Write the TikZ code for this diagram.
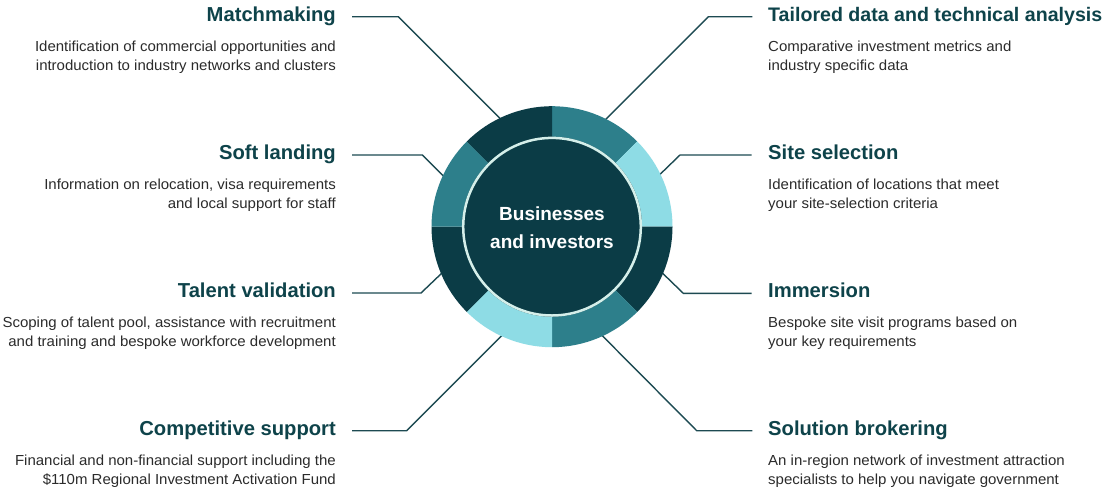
\documentclass[tikz,border=0pt]{standalone}
\usepackage{fontspec}
\setmainfont{Liberation Sans}
\newfontfamily\mydescfont{Liberation Sans}[FakeStretch=1.03]
\definecolor{ringdark}{HTML}{0B3C46}
\definecolor{ringteal}{HTML}{2D7F8B}
\definecolor{ringlight}{HTML}{8EDCE5}
\definecolor{ringline}{HTML}{D5EFEA}
\definecolor{titlecol}{HTML}{0E434A}
\definecolor{desccol}{HTML}{2B2B2B}
\definecolor{conncol}{HTML}{1D4A52}
\newcommand\myseg[3]{\fill[#3] (#1:120.5) arc[start angle=#1, end angle=#2, radius=120.5] -- (#2:89.5) arc[start angle=#2, end angle=#1, radius=89.5] -- cycle;}
\newcommand\mydescR[1]{\begin{tabular}[t]{@{}r@{}}#1\end{tabular}}
\newcommand\mydescL[1]{\begin{tabular}[t]{@{}l@{}}#1\end{tabular}}
\tikzset{
  titleL/.style={anchor=base east, inner sep=0pt, text=titlecol, font=\fontsize{20.2}{24}\selectfont\bfseries},
  titleR/.style={anchor=base west, inner sep=0pt, text=titlecol, font=\fontsize{20.2}{24}\selectfont\bfseries},
  descL/.style={anchor=base east, inner sep=0pt, text=desccol, font=\mydescfont\fontsize{14.55}{19}\selectfont},
  descR/.style={anchor=base west, inner sep=0pt, text=desccol, font=\mydescfont\fontsize{14.55}{19}\selectfont},
  conn/.style={draw=conncol, line width=1.4pt},
  centertext/.style={text=white, font=\fontsize{19}{27.7}\selectfont\bfseries, align=center, inner sep=0pt}
}
\begin{document}
\begin{tikzpicture}[x=1pt,y=-1pt]
\useasboundingbox (0,0) rectangle (1108,488);
\fill[white] (0,0) rectangle (1108,488);

% left texts
\node[titleL] (tm) at (336,21.5) {Matchmaking};
\node[descL] (dm) at (336,51.5) {\mydescR{Identification of commercial opportunities and\\introduction to industry networks and clusters}};
\node[titleL] (ts) at (336,159.5) {Soft landing};
\node[descL] (ds) at (336,189.5) {\mydescR{Information on relocation, visa requirements\\and local support for staff}};
\node[titleL] (tv) at (336,297.8) {Talent validation};
\node[descL] (dv) at (336,327.8) {\mydescR{Scoping of talent pool, assistance with recruitment\\and training and bespoke workforce development}};
\node[titleL] (tc) at (336,435.3) {Competitive support};
\node[descL] (dc) at (336,465.3) {\mydescR{Financial and non-financial support including the\\\$110m Regional Investment Activation Fund}};

% right texts
\node[titleR, font=\fontsize{19.6}{24}\selectfont\bfseries] (tt) at (768,21.5) {Tailored data and technical analysis};
\node[descR] (dt) at (768,51.5) {\mydescL{Comparative investment metrics and\\industry specific data}};
\node[titleR] (tss) at (768,159.5) {Site selection};
\node[descR] (dss) at (768,189.5) {\mydescL{Identification of locations that meet\\your site-selection criteria}};
\node[titleR] (ti) at (768,297.8) {Immersion};
\node[descR] (di) at (768,327.8) {\mydescL{Bespoke site visit programs based on\\your key requirements}};
\node[titleR] (tb) at (768,435.3) {Solution brokering};
\node[descR] (db) at (768,465.3) {\mydescL{An in-region network of investment attraction\\specialists to help you navigate government}};

% connector coordinates
\coordinate (mA) at (352,16.7);   \coordinate (mB) at (398.3,16.7);  \coordinate (mC) at (502,120.4);
\coordinate (sA) at (352,155);    \coordinate (sB) at (422.3,155);   \coordinate (sC) at (444.5,177.2);
\coordinate (vA) at (352,293);    \coordinate (vB) at (421,293);     \coordinate (vC) at (443,272);
\coordinate (cA) at (352,430.7);  \coordinate (cB) at (406.7,430.7); \coordinate (cC) at (504,333.4);
\coordinate (tA) at (752.3,16.7); \coordinate (tB) at (708.3,16.7);  \coordinate (tC) at (603.7,121.3);
\coordinate (eA) at (751.7,155);  \coordinate (eB) at (680,155);     \coordinate (eC) at (658,176.3);
\coordinate (iA) at (751.7,293.3);\coordinate (iB) at (683.3,293.3); \coordinate (iC) at (661.3,272);
\coordinate (bA) at (752.3,430.7);\coordinate (bB) at (696.7,430.7); \coordinate (bC) at (600.3,333.7);

\draw[conn] (mA) -- (mB) -- (mC);
\draw[conn] (sA) -- (sB) -- (sC);
\draw[conn] (vA) -- (vB) -- (vC);
\draw[conn] (cA) -- (cB) -- (cC);
\draw[conn] (tA) -- (tB) -- (tC);
\draw[conn] (eA) -- (eB) -- (eC);
\draw[conn] (iA) -- (iB) -- (iC);
\draw[conn] (bA) -- (bB) -- (bC);

% ring
\begin{scope}[shift={(552,226.7)}, y=1pt]
\myseg{90}{45}{ringteal}
\myseg{45}{0}{ringlight}
\myseg{0}{-45}{ringdark}
\myseg{-45}{-90}{ringteal}
\myseg{-90}{-135}{ringlight}
\myseg{-135}{-180}{ringdark}
\myseg{180}{135}{ringteal}
\myseg{135}{90}{ringdark}
\fill[ringdark] (0,0) circle[radius=90];
\draw[ringline, line width=2.5pt] (0,0) circle[radius=88.8];
\end{scope}
\node[centertext] (ctr) at (552,227.5) {Businesses\\and investors};
\end{tikzpicture}
\end{document}
